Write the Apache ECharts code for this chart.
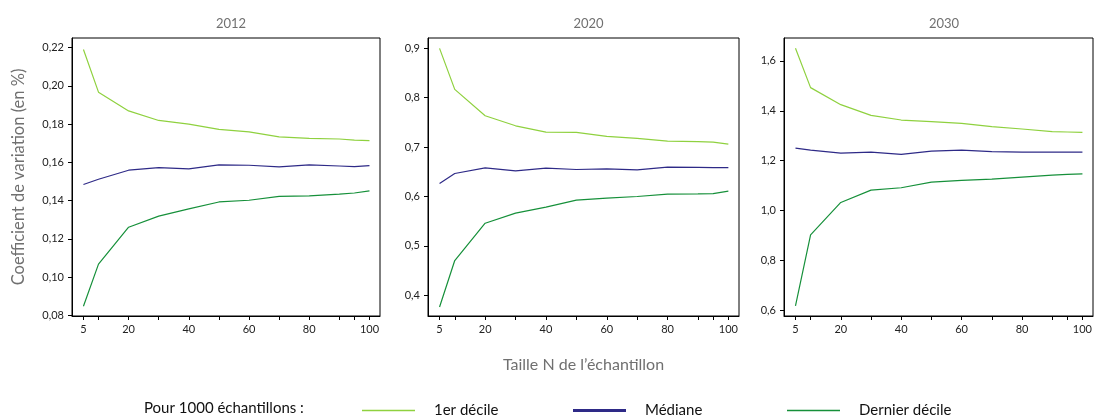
<!DOCTYPE html>
<html><head><meta charset="utf-8">
<script src="https://cdn.jsdelivr.net/npm/echarts@6/dist/echarts.min.js"></script>
<style>html,body{margin:0;padding:0;background:#fff}#c{width:1095px;height:419px}</style>
</head><body><div id="c"></div>
<script>
const sampleSizes = [5, 10, 20, 30, 40, 50, 60, 70, 80, 90, 95, 100];
const xTicks = [5, 10, 20, 30, 40, 50, 60, 70, 80, 90, 95, 100];
const xLabels = [5, 20, 40, 60, 80, 100];
const panelTitles = ['2012', '2020', '2030'];
const seriesNames = ['1er décile', 'Médiane', 'Dernier décile'];

const d2012_first = [0.2190, 0.1967, 0.1869, 0.1819, 0.1800, 0.1772, 0.1759, 0.1733, 0.1725, 0.1722, 0.1716, 0.1714];
const d2012_median = [0.1484, 0.1512, 0.1559, 0.1573, 0.1566, 0.1587, 0.1585, 0.1576, 0.1587, 0.1581, 0.1578, 0.1583];
const d2012_last = [0.0848, 0.1068, 0.1261, 0.1319, 0.1357, 0.1393, 0.1402, 0.1422, 0.1425, 0.1434, 0.1440, 0.1451];

const d2020_first = [0.900, 0.817, 0.7635, 0.7432, 0.7304, 0.7297, 0.7216, 0.7176, 0.7122, 0.711, 0.7102, 0.7061];
const d2020_median = [0.6263, 0.6466, 0.6581, 0.652, 0.6574, 0.6547, 0.656, 0.654, 0.6594, 0.659, 0.6585, 0.6585];
const d2020_last = [0.3763, 0.4703, 0.5459, 0.5662, 0.5784, 0.5926, 0.5966, 0.600, 0.6047, 0.6054, 0.606, 0.6108];

const d2030_first = [1.651, 1.493, 1.4246, 1.3818, 1.363, 1.3564, 1.3497, 1.3363, 1.327, 1.3162, 1.315, 1.3135];
const d2030_median = [1.2506, 1.2425, 1.2305, 1.2345, 1.2252, 1.2386, 1.2426, 1.236, 1.2346, 1.2346, 1.2346, 1.2346];
const d2030_last = [0.6174, 0.9026, 1.0324, 1.0819, 1.0913, 1.114, 1.1207, 1.126, 1.134, 1.142, 1.1447, 1.1474];

const yTicks2012 = [0.08, 0.10, 0.12, 0.14, 0.16, 0.18, 0.20, 0.22];
const yTicks2020 = [0.4, 0.5, 0.6, 0.7, 0.8, 0.9];
const yTicks2030 = [0.6, 0.8, 1.0, 1.2, 1.4, 1.6];

const FONT = 'Lato';
const colors = ['#8fd13f', '#2e2a87', '#16903a'];

const panels = [
  {data: [d2012_first, d2012_median, d2012_last], ticks: yTicks2012, dec: 2, min: 0.0797, max: 0.2250, left: 72, width: 308},
  {data: [d2020_first, d2020_median, d2020_last], ticks: yTicks2020, dec: 1, min: 0.358, max: 0.921, left: 428, width: 311},
  {data: [d2030_first, d2030_median, d2030_last], ticks: yTicks2030, dec: 1, min: 0.577, max: 1.692, left: 784, width: 310}
];

const grids = [], xAxes = [], yAxes = [], series = [], titles = [];
panels.forEach((p, i) => {
  grids.push({left: p.left, width: p.width, top: 38, height: 278, show: true, borderColor: '#000', borderWidth: 1, backgroundColor: 'transparent'});
  titles.push({text: panelTitles[i], left: p.left + p.width / 2, textAlign: 'center', top: 12,
    textStyle: {fontFamily: FONT, fontSize: 13, fontWeight: 'normal', color: '#707070'}});
  xAxes.push({type: 'value', gridIndex: i, min: 1.2, max: 103.5,
    axisLine: {show: true, lineStyle: {color: '#000', width: 1}},
    axisTick: {show: true, length: 4, customValues: xTicks, lineStyle: {color: '#000'}},
    axisLabel: {customValues: xLabels, margin: 8, color: '#222', fontFamily: FONT, fontSize: 11},
    splitLine: {show: false},
    name: i === 1 ? 'Taille N de l\u2019échantillon' : '',
    nameLocation: 'middle', nameGap: 41,
    nameTextStyle: {fontFamily: FONT, fontSize: 16, color: '#707070'}
  });
  yAxes.push({type: 'value', gridIndex: i, min: p.min, max: p.max,
    axisLine: {show: true, lineStyle: {color: '#000', width: 1}},
    axisTick: {show: true, length: 4, customValues: p.ticks, lineStyle: {color: '#000'}},
    axisLabel: {customValues: p.ticks, margin: 8, color: '#222', fontFamily: FONT, fontSize: 11,
      formatter: v => v.toFixed(p.dec).replace('.', ',')},
    splitLine: {show: false},
    name: i === 0 ? 'Coefficient de variation (en %)' : '',
    nameLocation: 'middle', nameGap: 45, nameRotate: 90,
    nameTextStyle: {fontFamily: FONT, fontSize: 16.5, color: '#707070'}
  });
  p.data.forEach((arr, k) => {
    series.push({type: 'line', name: seriesNames[k], xAxisIndex: i, yAxisIndex: i,
      data: sampleSizes.map((x, j) => [x, arr[j]]),
      showSymbol: false, symbol: 'none', silent: true, animation: false,
      lineStyle: {color: colors[k], width: 1.2}, itemStyle: {color: colors[k]}});
  });
});

const legendCommon = {top: 398, itemWidth: 53, itemGap: 24, icon: 'rect', selectedMode: false,
  textStyle: {fontFamily: FONT, fontSize: 15, color: '#111', padding: [0, 0, 0, 14]}};

const chart = echarts.init(document.getElementById('c'), null, {renderer: 'canvas'});
chart.setOption({
  animation: false,
  title: titles,
  grid: grids,
  xAxis: xAxes,
  yAxis: yAxes,
  series: series,
  legend: [
    Object.assign({}, legendCommon, {left: 357, data: [seriesNames[0]], itemHeight: 1.5}),
    Object.assign({}, legendCommon, {left: 568, data: [seriesNames[1]], itemHeight: 3}),
    Object.assign({}, legendCommon, {left: 782, data: [seriesNames[2]], itemHeight: 1.5})
  ],
  graphic: [{type: 'text', left: 144, top: 401,
    style: {text: 'Pour 1000 échantillons :', font: '15px ' + FONT, fill: '#111'}}]
});
</script></body></html>
